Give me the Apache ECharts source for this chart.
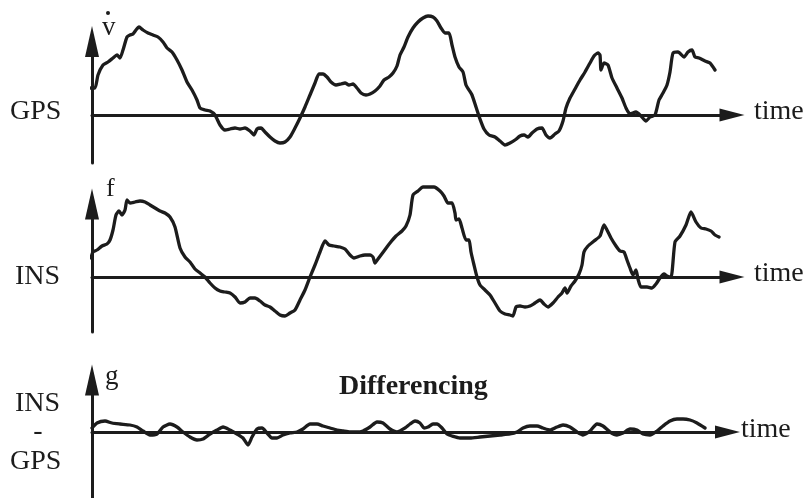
<!DOCTYPE html>
<html>
<head>
<meta charset="utf-8">
<script src="https://cdn.jsdelivr.net/npm/echarts@6/dist/echarts.min.js"></script>
<style>
html,body{margin:0;padding:0;background:#fff;}
#chart{width:807px;height:498px;}
</style>
</head>
<body>
<div id="chart"></div>
<script>
// ---- data (time units along the axis, signal values relative to zero line) ----
var tGps = [-1,3,6,11,16,21,25,28,31,35,38,41,44,47,51,56,61,66,71,75,80,85,90,95,100,105,108,113,118,123,128,133,138,143,148,153,158,162,165,169,173,178,183,188,193,198,203,208,213,218,223,227,231,235,239,244,249,253,257,261,265,269,274,278,283,288,292,297,301,305,308,312,316,321,326,331,336,341,345,349,353,357,360,363,367,371,374,377,380,384,388,392,397,403,408,413,418,423,428,432,436,440,445,450,454,458,463,467,471,474,478,483,488,493,498,502,506,508,509,512,516,520,525,530,534,538,544,549,554,558,563,567,571,575,578,581,586,592,596,600,603,607,613,618,623];
var vGps = [27,27,40,50,53,57,60,57,65,78,80,81,85,88,85,82,80,78,73,67,63,55,45,33,25,15,7,5,4,0,-10,-15,-14,-13,-14,-13,-16,-20,-14,-13,-17,-22,-26,-28,-27,-22,-13,-3,8,20,32,41,41,38,33,30,31,32,30,31,27,22,20,21,24,29,35,38,42,49,60,68,78,87,93,97,99,98,94,87,82,82,70,58,48,43,30,25,20,8,-4,-14,-20,-22,-26,-30,-28,-25,-21,-20,-22,-18,-14,-13,-20,-23,-19,-16,-6,7,17,26,35,43,52,59,62,60,45,52,50,37,27,17,7,1,3,-1,-6,-2,0,15,22,30,43,62,63,58,63,65,58,57,54,52,45];

var tIns = [-1,1,5,10,15,18,21,24,27,30,33,35,38,43,48,53,58,63,68,73,78,83,88,93,98,103,108,113,118,123,128,133,138,143,148,153,158,163,168,173,178,183,188,193,198,203,208,213,218,223,228,233,237,242,248,253,258,262,268,273,278,281,283,286,292,298,304,310,314,318,321,326,331,336,342,348,352,356,360,363,364,367,370,374,377,379,382,385,388,393,398,403,408,413,418,421,424,428,433,438,443,448,452,456,461,466,470,473,475,479,483,487,490,492,496,502,508,512,515,519,524,528,532,535,538,541,544,546,549,555,560,564,568,572,575,579,583,588,594,599,604,609,614,619,623,627];
var vIns = [19,25,27,31,33,37,47,62,66,62,67,77,74,75,76,75,72,69,66,64,60,50,29,20,15,8,4,0,-6,-11,-14,-15,-16,-20,-26,-25,-21,-21,-24,-28,-30,-34,-38,-39,-36,-33,-23,-13,0,12,25,36,32,31,30,28,22,19,21,22,22,20,14,18,26,34,41,46,51,62,82,86,90,90,90,86,81,74,74,64,57,58,49,37,37,25,12,0,-8,-13,-18,-26,-34,-37,-38,-39,-30,-29,-30,-29,-26,-23,-27,-30,-26,-20,-16,-11,-16,-9,-4,3,12,25,31,36,41,52,47,39,31,26,25,17,9,2,7,-2,-10,-10,-11,-7,-1,3,1,0,35,41,52,65,55,49,48,46,42,40];

var tDiff = [0,5,13,20,28,38,45,51,58,65,71,78,85,91,98,105,111,118,125,131,138,145,151,156,160,165,170,175,180,185,191,198,205,211,218,225,231,238,245,251,258,265,271,278,285,291,298,305,313,318,323,328,332,336,341,345,350,355,360,368,378,388,398,408,418,425,431,438,445,451,458,465,471,478,485,491,498,505,511,518,525,531,538,545,551,558,565,571,578,585,591,598,605,613];
var vDiff = [4,9,11,9,8,7,5,1,-3,-2,5,8,5,0,-5,-8,-7,-2,2,5,2,-2,-6,-13,-5,3,4,-1,-6,-6,-3,-1,0,3,8,8,6,4,2,1,0,0,1,5,10,9,3,0,4,8,11,9,4,5,8,8,4,-2,-4,-6,-6,-5,-4,-3,-2,0,4,6,6,4,2,5,7,5,0,-3,1,8,6,0,-3,-1,3,2,-2,-3,1,6,11,13,13,12,9,4];

var panelNames = ['GPS', 'INS', 'INS\n-\nGPS'];
var axisSymbols = ['v', 'f', 'g'];
var axisName = 'time';
var annotation = 'Differencing';

function zip(t, v){ var out=[]; for (var i=0;i<t.length;i++) out.push([t[i], v[i]]); return out; }

var INK = '#1c1c1c';
var SERIF = '"Liberation Serif", "Times New Roman", serif';

var grids = [
  {left:92, top:41.5, width:640, height:121.5},
  {left:92, top:204, width:640, height:128},
  {left:92, top:380, width:635.5, height:118}
];
var yRanges = [[-48, 73.5], [-55, 73], [-66, 52]];
var xMax = [640, 640, 635.5];

function xAx(i){
  return {
    gridIndex:i, type:'value', min:0, max:xMax[i],
    axisLine:{show:true, onZero:true, symbol:['none','triangle'], symbolSize:[13,25], lineStyle:{color:INK, width:3}},
    axisTick:{show:false}, axisLabel:{show:false}, splitLine:{show:false}
  };
}
function yAx(i){
  return {
    gridIndex:i, type:'value', min:yRanges[i][0], max:yRanges[i][1],
    axisLine:{show:true, onZero:false, symbol:['none','triangle'], symbolSize:[14,31], lineStyle:{color:INK, width:3}},
    axisTick:{show:false}, axisLabel:{show:false}, splitLine:{show:false}
  };
}
function ser(i, data){
  return {
    type:'line', xAxisIndex:i, yAxisIndex:i, data:data, showSymbol:false, symbol:'none',
    smooth:0.2, clip:false, lineStyle:{color:INK, width:3.3, join:'round', cap:'round'}, silent:true, animation:false
  };
}

function txt(str, x, y, opts){
  opts = opts || {};
  return {
    type:'text', x:x, y:y, silent:true,
    style:{text:str, font:(opts.weight||'normal')+' '+(opts.size||28)+'px '+SERIF, fill:INK,
           align:opts.align||'left', verticalAlign:'middle'}
  };
}

var chart = echarts.init(document.getElementById('chart'), null, {renderer:'canvas'});
chart.setOption({
  backgroundColor:'#ffffff',
  animation:false,
  grid:grids,
  xAxis:[xAx(0), xAx(1), xAx(2)],
  yAxis:[yAx(0), yAx(1), yAx(2)],
  series:[ser(0, zip(tGps, vGps)), ser(1, zip(tIns, vIns)), ser(2, zip(tDiff, vDiff))],
  graphic:[
    txt(panelNames[0], 10, 112),
    txt(panelNames[1], 15, 277),
    txt('INS', 15, 404),
    txt('-', 38, 432, {align:'center'}),
    txt('GPS', 10, 462),
    txt(axisName, 754, 112),
    txt(axisName, 754, 274),
    txt(axisName, 741, 430),
    txt(axisSymbols[0], 102, 28, {size:27}),
    {type:'circle', shape:{cx:108, cy:13, r:2}, style:{fill:INK}, silent:true},
    txt(axisSymbols[1], 106, 189, {size:26}),
    txt(axisSymbols[2], 105, 377, {size:27}),
    txt(annotation, 339, 387, {weight:'bold'})
  ]
});
</script>
</body>
</html>
